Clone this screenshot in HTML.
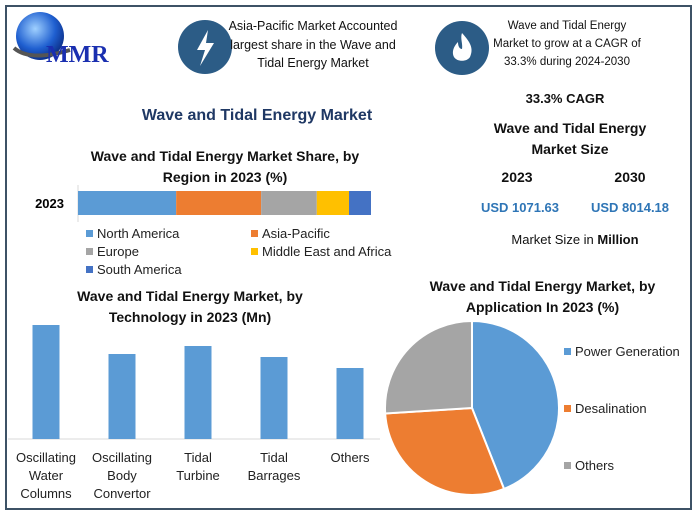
<!DOCTYPE html>
<html><head><meta charset="utf-8"><style>
body{margin:0;background:#fff;font-family:"Liberation Sans",sans-serif}
#root{position:relative;width:695px;height:513px;overflow:hidden;background:#fff}
.t{position:absolute;text-align:center;color:#111;white-space:nowrap}
.b{font-weight:bold}
</style></head><body>
<div id="root">
<div style="position:absolute;left:5px;top:5px;width:683px;height:501px;border:2px solid #3d5266"></div>
<svg style="position:absolute;left:0;top:0" width="695" height="513">
 <defs><radialGradient id="g" cx="0.4" cy="0.35" r="0.7"><stop offset="0" stop-color="#9fd0ff"/><stop offset="0.6" stop-color="#1f5fd0"/><stop offset="1" stop-color="#0a2a80"/></radialGradient></defs>
 <circle cx="40" cy="36" r="24" fill="url(#g)"/>
 <path d="M14 48 Q30 62 70 50" stroke="#555" stroke-width="4" fill="none"/>
 <text x="46" y="62" font-family="Liberation Serif" font-weight="bold" font-size="24" fill="#1a2fb0">MMR</text>
 <circle cx="205" cy="47" r="27" fill="#2c5c86"/>
 <path d="M208 30 L197 50 L205 50 L200 66 L214 43 L206 43 Z" fill="#fff"/>
 <circle cx="462" cy="48" r="27" fill="#2c5c86"/>
 <path d="M462 33 C470 42 474 48 470 57 C467 62 457 62 454 57 C451 51 455 45 458 42 C458 47 460 49 462 49 C463 44 460 38 462 33 Z" fill="#fff"/>
</svg>
<div class="t" style="left:193px;top:17px;width:240px;font-size:12.5px;line-height:18.5px">Asia-Pacific Market Accounted<br>largest share in the Wave and<br>Tidal Energy Market</div>
<div class="t" style="left:477px;top:17px;width:180px;font-size:11.5px;line-height:18px">Wave and Tidal Energy<br>Market to grow at a CAGR of<br>33.3% during 2024-2030</div>
<div class="t b" style="left:107px;top:107px;width:300px;font-size:16px;color:#1f3864">Wave and Tidal Energy Market</div>
<div class="t b" style="left:60px;top:146px;width:330px;font-size:14px;line-height:21px">Wave and Tidal Energy Market Share, by<br>Region in 2023 (%)</div>
<div class="t b" style="left:500px;top:91px;width:130px;font-size:13px">33.3% CAGR</div>
<div class="t b" style="left:485px;top:118px;width:170px;font-size:14px;line-height:21px;white-space:normal">Wave and Tidal Energy Market Size</div>
<div class="t b" style="left:487px;top:169px;width:60px;font-size:14px">2023</div>
<div class="t b" style="left:600px;top:169px;width:60px;font-size:14px">2030</div>
<div class="t b" style="left:470px;top:200px;width:100px;font-size:13px;color:#2e75b6">USD 1071.63</div>
<div class="t b" style="left:580px;top:200px;width:100px;font-size:13px;color:#2e75b6">USD 8014.18</div>
<div class="t" style="left:490px;top:232px;width:170px;font-size:13px">Market Size in <b>Million</b></div>
<div class="t b" style="left:40px;top:286px;width:300px;font-size:14px;line-height:21px;white-space:normal">Wave and Tidal Energy Market, by Technology in 2023 (Mn)</div>
<div class="t b" style="left:410px;top:276px;width:265px;font-size:14px;line-height:21px;white-space:normal">Wave and Tidal Energy Market, by Application In 2023 (%)</div>
<svg id="charts" style="position:absolute;left:0;top:0" width="695" height="513"></svg>
</div>
<script>
const regionNames=["North America","Asia-Pacific","Europe","Middle East and Africa","South America"];
const regionShares=[33.5,29,19,11,7.5];
const regionColors=["#5b9bd5","#ed7d31","#a5a5a5","#ffc000","#4472c4"];
const techNames=[["Oscillating","Water","Columns"],["Oscillating","Body","Convertor"],["Tidal","Turbine"],["Tidal","Barrages"],["Others"]];
const techValues=[114,85,93,82,71];
const appNames=["Power Generation","Desalination","Others"];
const appShares=[44,30,26];
const appColors=["#5b9bd5","#ed7d31","#a5a5a5"];
const NS="http://www.w3.org/2000/svg";
const svg=document.getElementById('charts');
function mk(tag,attrs,parent){const e=document.createElementNS(NS,tag);for(const k in attrs)e.setAttribute(k,attrs[k]);(parent||svg).appendChild(e);return e;}
const rx0=78,rw=293,rTot=regionShares.reduce((a,b)=>a+b,0);
const xR=v=>rx0+v/rTot*rw;
let lbl=mk('text',{x:64,y:208,'font-size':13,'font-weight':'bold','text-anchor':'end','font-family':'Liberation Sans'});lbl.textContent='2023';


mk('line',{x1:rx0,y1:185,x2:rx0,y2:222,stroke:'#d9d9d9'});
let acc=0;
regionShares.forEach((v,i)=>{
 const r=mk('rect',{x:xR(acc),y:191,width:xR(acc+v)-xR(acc),height:24,fill:regionColors[i]});
 
 
 acc+=v;
 const lx=i%2==0?86:251, ly=234+Math.floor(i/2)*18;
 mk('rect',{x:lx,y:ly-4,width:7,height:7,fill:regionColors[i]});
 const t=mk('text',{x:lx+11,y:ly+4,'font-size':13,fill:'#222','font-family':'Liberation Sans'});t.textContent=regionNames[i];
 
 
});
const base=439,scaleH=1.0;
const yT=v=>base-v*scaleH;
mk('line',{x1:8,y1:base,x2:380,y2:base,stroke:'#d9d9d9'});
techValues.forEach((v,i)=>{
 const cx=46+i*76;
 const r=mk('rect',{x:cx-13.5,y:yT(v),width:27,height:base-yT(v),fill:'#5b9bd5'});
 
 
 techNames[i].forEach((s,j)=>{const t=mk('text',{x:cx,y:462+j*18,'font-size':13,'text-anchor':'middle',fill:'#222','font-family':'Liberation Sans'});t.textContent=s;
  
  });
});
const pcx=472,pcy=408,pr=87,aTot=appShares.reduce((a,b)=>a+b,0);
let a0=0;
appShares.forEach((v,i)=>{
 const a1=a0+v/aTot*2*Math.PI;
 const p=(a)=>[pcx+pr*Math.sin(a),pcy-pr*Math.cos(a)];
 const [x0,y0]=p(a0),[x1,y1]=p(a1);
 const s=mk('path',{d:`M${pcx} ${pcy}L${x0} ${y0}A${pr} ${pr} 0 ${a1-a0>Math.PI?1:0} 1 ${x1} ${y1}Z`,fill:appColors[i],stroke:'#fff','stroke-width':2});
 
 
 a0=a1;
 const ly=352+i*57;
 mk('rect',{x:564,y:ly-4,width:7,height:7,fill:appColors[i]});
 const t=mk('text',{x:575,y:ly+4,'font-size':13,fill:'#222','font-family':'Liberation Sans'});t.textContent=appNames[i];
 
 
});
</script>
</body></html>
